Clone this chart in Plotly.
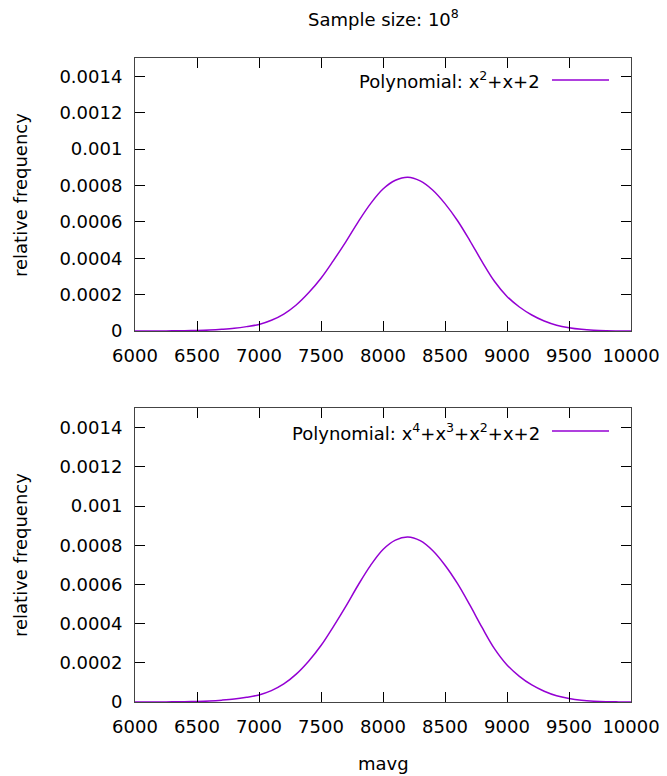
import plotly.graph_objects as go

# ---- data ----
mavg = [6000, 6100, 6200, 6300, 6400, 6500, 6600, 6700, 6800, 6900,
        7000, 7100, 7200, 7300, 7400, 7500, 7600, 7700, 7800, 7900,
        8000, 8100, 8200, 8300, 8400, 8500, 8600, 8700, 8800, 8900,
        9000, 9100, 9200, 9300, 9400, 9500, 9600, 9700, 9800, 9900, 10000]

freq_poly2 = [0.0, 0.0, 0.3e-6, 0.8e-6, 1.5e-6, 3e-6, 5.5e-6, 9.5e-6, 15e-6, 24e-6,
              36e-6, 59e-6, 93e-6, 143e-6, 210e-6, 290e-6, 387e-6, 490e-6, 600e-6, 700e-6,
              780e-6, 828e-6, 845e-6, 825e-6, 775e-6, 700e-6, 607e-6, 497e-6, 380e-6, 272e-6,
              190e-6, 132e-6, 88e-6, 55e-6, 32e-6, 18e-6, 9e-6, 4e-6, 1.5e-6, 0.5e-6, 0.0]

freq_poly4 = [0.0, 0.0, 0.3e-6, 0.8e-6, 1.5e-6, 3e-6, 5.5e-6, 9.5e-6, 15e-6, 24e-6,
              36e-6, 58e-6, 92e-6, 142e-6, 208e-6, 288e-6, 385e-6, 488e-6, 597e-6, 697e-6,
              778e-6, 826e-6, 842e-6, 823e-6, 773e-6, 698e-6, 605e-6, 495e-6, 379e-6, 271e-6,
              189e-6, 131e-6, 87e-6, 55e-6, 32e-6, 18e-6, 9e-6, 4e-6, 1.5e-6, 0.5e-6, 0.0]

x_ticks = [6000, 6500, 7000, 7500, 8000, 8500, 9000, 9500, 10000]
x_tick_labels = ["6000", "6500", "7000", "7500", "8000", "8500", "9000", "9500", "10000"]
y_ticks = [0, 0.0002, 0.0004, 0.0006, 0.0008, 0.001, 0.0012, 0.0014]
y_tick_labels = ["0", "0.0002", "0.0004", "0.0006", "0.0008", "0.001", "0.0012", "0.0014"]

title_text = "Sample size: 10<sup>8</sup>"
legend_top = "Polynomial: x<sup>2</sup>+x+2"
legend_bottom = "Polynomial: x<sup>4</sup>+x<sup>3</sup>+x<sup>2</sup>+x+2"
x_title = "mavg"
y_title = "relative frequency"

# ---- figure ----
W, H = 667, 776
FONT = "DejaVu Sans"
FS = 18
LINE_COLOR = "#9400D3"

def px_x(p):
    return p / W

def px_y(p):
    return 1 - p / H

fig = go.Figure()
fig.add_trace(go.Scatter(x=mavg, y=freq_poly2, mode="lines", xaxis="x", yaxis="y",
                         line=dict(color=LINE_COLOR, width=1.5, shape="spline", smoothing=1.0),
                         showlegend=False, name="Polynomial: x²+x+2"))
fig.add_trace(go.Scatter(x=mavg, y=freq_poly4, mode="lines", xaxis="x2", yaxis="y2",
                         line=dict(color=LINE_COLOR, width=1.5, shape="spline", smoothing=1.0),
                         showlegend=False, name="Polynomial: x⁴+x³+x²+x+2"))

xdom = [px_x(135), px_x(631)]
axis_common = dict(showline=True, mirror="allticks", linecolor="#444444", linewidth=1,
                   ticks="inside", ticklen=10, tickcolor="black", tickwidth=1,
                   showgrid=False, zeroline=False, automargin=False,
                   tickfont=dict(family=FONT, size=FS, color="black"))

fig.update_layout(
    width=W, height=H,
    margin=dict(l=0, r=0, t=0, b=0),
    paper_bgcolor="white", plot_bgcolor="white",
    font=dict(family=FONT, size=FS, color="black"),
    xaxis=dict(domain=xdom, anchor="y", range=[6000, 10000], tickvals=x_ticks,
               ticktext=x_tick_labels, ticklabelstandoff=8, **axis_common),
    yaxis=dict(domain=[px_y(331), px_y(58)], anchor="x", range=[0, 0.0015],
               tickvals=y_ticks, ticktext=y_tick_labels, ticklabelstandoff=8, **axis_common),
    xaxis2=dict(domain=xdom, anchor="y2", range=[6000, 10000], tickvals=x_ticks,
                ticktext=x_tick_labels, ticklabelstandoff=8, **axis_common),
    yaxis2=dict(domain=[px_y(702), px_y(408)], anchor="x2", range=[0, 0.0015],
                tickvals=y_ticks, ticktext=y_tick_labels, ticklabelstandoff=8, **axis_common),
)

ann = []
ann.append(dict(text=title_text, x=px_x(383), y=px_y(18), xref="paper", yref="paper",
                showarrow=False, xanchor="center", yanchor="middle", font=dict(size=FS)))
ann.append(dict(text=y_title, x=px_x(20), y=px_y(195), xref="paper", yref="paper",
                showarrow=False, textangle=-90, xanchor="center", yanchor="middle", font=dict(size=FS)))
ann.append(dict(text=y_title, x=px_x(20), y=px_y(555), xref="paper", yref="paper",
                showarrow=False, textangle=-90, xanchor="center", yanchor="middle", font=dict(size=FS)))
ann.append(dict(text=x_title, x=px_x(383), y=px_y(763), xref="paper", yref="paper",
                showarrow=False, xanchor="center", yanchor="middle", font=dict(size=FS)))
ann.append(dict(text=legend_top, x=px_x(542), y=px_y(80), xref="paper", yref="paper",
                showarrow=False, xanchor="right", yanchor="middle", font=dict(size=FS)))
ann.append(dict(text=legend_bottom, x=px_x(542), y=px_y(432), xref="paper", yref="paper",
                showarrow=False, xanchor="right", yanchor="middle", font=dict(size=FS)))
fig.update_layout(annotations=ann)

fig.add_shape(type="line", xref="paper", yref="paper", x0=px_x(552), x1=px_x(609),
              y0=px_y(80), y1=px_y(80), line=dict(color=LINE_COLOR, width=1.5))
fig.add_shape(type="line", xref="paper", yref="paper", x0=px_x(552), x1=px_x(609),
              y0=px_y(431), y1=px_y(431), line=dict(color=LINE_COLOR, width=1.5))

fig.write_html("out.html", config={"displayModeBar": False},
               post_script="document.body.style.margin='0';document.body.style.overflow='hidden';")
